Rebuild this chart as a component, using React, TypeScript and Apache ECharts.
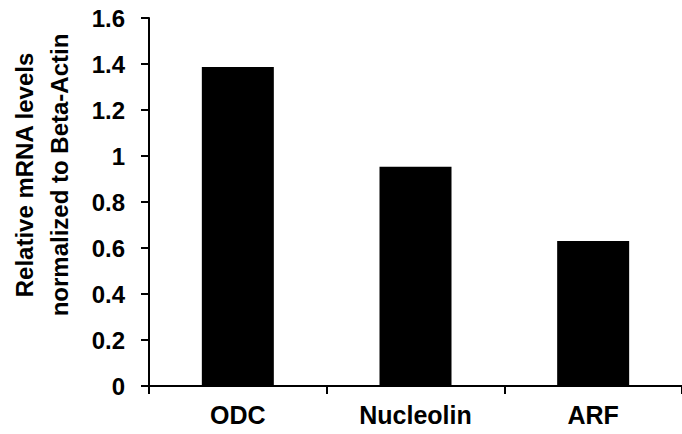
import React, { useEffect, useRef } from "react";
import * as echarts from "echarts";

const categories = ["ODC", "Nucleolin", "ARF"];
const values = [1.387, 0.953, 0.63];
const yAxisTitle = "Relative mRNA levels\nnormalized to Beta-Actin";

export default function App() {
  const ref = useRef<HTMLDivElement>(null);
  useEffect(() => {
    if (!ref.current) return;
    const chart = echarts.init(ref.current, null, { renderer: "svg" });
    const font = "'Liberation Sans', Arial, sans-serif";
    chart.setOption({
      animation: false,
      backgroundColor: "#ffffff",
      grid: { left: 149, top: 18, width: 544, bottom: 48, containLabel: false },
      graphic: [
        {
          type: "text",
          x: 42,
          y: 175,
          rotation: Math.PI / 2,
          style: {
            text: yAxisTitle,
            fill: "#000",
            font: `bold 24px ${font}`,
            lineHeight: 35,
            textAlign: "center",
            textVerticalAlign: "middle",
          },
        },
      ],
      xAxis: {
        type: "category",
        data: categories,
        axisLine: { lineStyle: { color: "#000", width: 2 } },
        axisTick: { show: true, length: 8, lineStyle: { color: "#000", width: 2 } },
        axisLabel: { color: "#000", fontSize: 25, fontWeight: "bold", fontFamily: font, margin: 16 },
      },
      yAxis: {
        type: "value",
        min: 0,
        max: 1.6,
        interval: 0.2,
        axisLine: { show: true, lineStyle: { color: "#000", width: 2 } },
        axisTick: { show: true, length: 8, lineStyle: { color: "#000", width: 2 } },
        splitLine: { show: false },
        axisLabel: { color: "#000", fontSize: 24, fontWeight: "bold", fontFamily: font, margin: 24 },
      },
      series: [
        {
          type: "bar",
          data: values,
          barWidth: 72,
          itemStyle: { color: "#000" },
        },
      ],
    });
    return () => chart.dispose();
  }, []);
  return <div ref={ref} style={{ width: 682, height: 434, position: "absolute", left: 0, top: 0 }} />;
}
